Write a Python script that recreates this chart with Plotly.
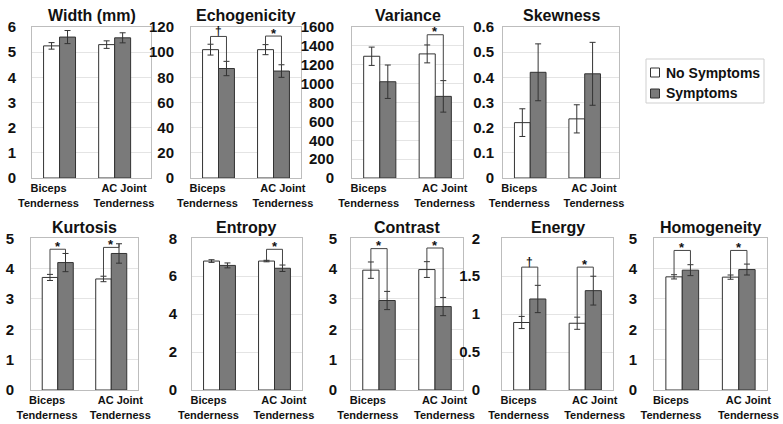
import plotly.graph_objects as go

# ---------------- data ----------------
panel_titles = ["Width (mm)", "Echogenicity", "Variance", "Skewness",
                "Kurtosis", "Entropy", "Contrast", "Energy", "Homogeneity"]
categories = ["Biceps<br>Tenderness", "AC Joint<br>Tenderness"]
series_names = ["No Symptoms", "Symptoms"]

no_sym_mean = [[5.25, 5.30], [102, 102], [1290, 1315], [0.22, 0.235],
               [3.71, 3.66], [6.80, 6.80], [3.95, 3.97], [0.89, 0.88], [3.73, 3.72]]
no_sym_err = [[0.13, 0.15], [4.3, 4.0], [97, 95], [0.055, 0.056],
              [0.10, 0.09], [0.07, 0.04], [0.27, 0.26], [0.08, 0.08], [0.07, 0.07]]
sym_mean = [[5.60, 5.57], [87, 85], [1020, 865], [0.42, 0.414],
            [4.20, 4.50], [6.57, 6.42], [2.95, 2.75], [1.20, 1.31], [3.95, 3.97]]
sym_err = [[0.26, 0.20], [5.7, 5.0], [177, 167], [0.113, 0.125],
           [0.30, 0.32], [0.13, 0.17], [0.30, 0.30], [0.18, 0.19], [0.18, 0.18]]

y_max = [6, 120, 1600, 0.6, 5, 8, 5, 2, 5]
y_dtick = [1, 20, 200, 0.1, 1, 2, 1, 0.5, 1]

# significance marks and bracket heights (data units) per panel / category
sig_mark = [["", ""], ["†", "*"], ["", "*"], ["", ""],
            ["*", "*"], ["", "*"], ["*", "*"], ["†", "*"], ["*", "*"]]
sig_level = [[None, None], [112.5, 112.8], [None, 1518], [None, None],
             [4.64, 4.70], [None, 7.42], [4.66, 4.68], [1.62, 1.62], [4.60, 4.60]]

# ---------------- layout geometry (pixels) ----------------
W, H = 783, 424
FONT = "Liberation Sans, Arial, sans-serif"
x_px = [(32, 151), (191, 301), (352, 463), (503, 619),
        (31, 138), (192, 302), (351, 463), (502, 613), (654, 767)]
row_px = [(27, 178)] * 4 + [(238.3, 390)] * 5
x_right = [1.66, 1.5, 1.5, 1.63, 1.5, 1.5, 1.5, 1.5, 1.5]
label_standoff = [12, 13, 14, 5, 13, 11, 10, 18, 13]

BARGAP = 0.42
WHITE = "#ffffff"
GRAY = "#7a7a7a"
EDGE = "#333333"

fig = go.Figure()

for i in range(9):
    n = "" if i == 0 else str(i + 1)
    xa, ya = "x" + n, "y" + n
    fig.add_trace(go.Bar(
        x=[0, 1], y=no_sym_mean[i], name=series_names[0], offsetgroup="a",
        xaxis=xa, yaxis=ya, showlegend=False,
        marker=dict(color=WHITE, line=dict(color=EDGE, width=1)),
        error_y=dict(type="data", array=no_sym_err[i], color=EDGE, thickness=1, width=3),
    ))
    fig.add_trace(go.Bar(
        x=[0, 1], y=sym_mean[i], name=series_names[1], offsetgroup="b",
        xaxis=xa, yaxis=ya, showlegend=False,
        marker=dict(color=GRAY, line=dict(color=EDGE, width=1)),
        error_y=dict(type="data", array=sym_err[i], color=EDGE, thickness=1, width=3),
    ))

    l, r = x_px[i]
    t, b = row_px[i]
    fig.update_layout(**{
        "xaxis" + n: dict(
            domain=[l / W, r / W], anchor=ya, range=[-0.5, x_right[i]],
            tickvals=[-0.2, 1.17], ticktext=categories, ticks="",
            showgrid=False, zeroline=False, showline=True, mirror=True,
            linecolor="#bdbdbd", linewidth=1, automargin=False,
            tickfont=dict(family=FONT, size=11, color="#111", weight="bold"),
            fixedrange=True,
        ),
        "yaxis" + n: dict(
            domain=[1 - b / H, 1 - t / H], anchor=xa, range=[0, y_max[i]],
            dtick=y_dtick[i], tick0=0, ticks="", showgrid=True, gridcolor="#e4e4e4",
            zeroline=False, showline=True, mirror=True, linecolor="#bdbdbd", linewidth=1,
            tickfont=dict(family=FONT, size=15, color="#111", weight="bold"),
            ticklabelstandoff=label_standoff[i], fixedrange=True, automargin=False,
        ),
    })

    # panel title
    fig.add_annotation(
        x=(l + r) / 2 / W, y=1 - (t - 11) / H, xref="paper", yref="paper",
        text=panel_titles[i], showarrow=False, xanchor="center", yanchor="middle",
        font=dict(family=FONT, size=16, color="#111", weight="bold"),
    )

    # significance brackets
    off = (1 - BARGAP) / 4
    for c in range(2):
        if not sig_mark[i][c]:
            continue
        lvl = sig_level[i][c]
        x0, x1 = c - off, c + off
        y0 = no_sym_mean[i][c] + no_sym_err[i][c]
        y1 = sym_mean[i][c] + sym_err[i][c]
        fig.add_shape(
            type="path", xref=xa, yref=ya,
            path=f"M {x0},{y0} L {x0},{lvl} L {x1},{lvl} L {x1},{y1}",
            line=dict(color="#444", width=1),
        )
        mark = sig_mark[i][c]
        fig.add_annotation(
            x=c, y=lvl, xref=xa, yref=ya, text=mark, showarrow=False,
            xanchor="center", yanchor="middle", yshift=3 if mark == "*" else 5,
            font=dict(family=FONT, size=12 if mark == "†" else 13, color="#111", weight="bold"),
        )

# ---------------- manual legend ----------------
fig.add_shape(type="rect", xref="paper", yref="paper",
              x0=646 / W, x1=764 / W, y0=1 - 103 / H, y1=1 - 59 / H,
              line=dict(color="#cfcfcf", width=1), fillcolor="white")
for k, (name, col, yc) in enumerate([(series_names[0], WHITE, 72.5), (series_names[1], GRAY, 93.5)]):
    fig.add_shape(type="rect", xref="paper", yref="paper",
                  x0=650.5 / W, x1=659.5 / W, y0=1 - (yc + 4.5) / H, y1=1 - (yc - 4.5) / H,
                  line=dict(color=EDGE, width=1), fillcolor=col)
    fig.add_annotation(x=664 / W, y=1 - yc / H, xref="paper", yref="paper",
                       text=name, showarrow=False, xanchor="left", yanchor="middle",
                       font=dict(family=FONT, size=14, color="#111", weight="bold"))

fig.update_layout(
    width=W, height=H, margin=dict(l=0, r=0, t=0, b=0, autoexpand=False),
    paper_bgcolor="white", plot_bgcolor="white",
    barmode="group", bargap=BARGAP, bargroupgap=0,
    showlegend=False, hovermode=False,
    font=dict(family=FONT, color="#111"),
)

fig.write_html("out.html", config={"displayModeBar": False},
               post_script="document.body.style.margin='0';document.body.style.overflow='hidden';")
